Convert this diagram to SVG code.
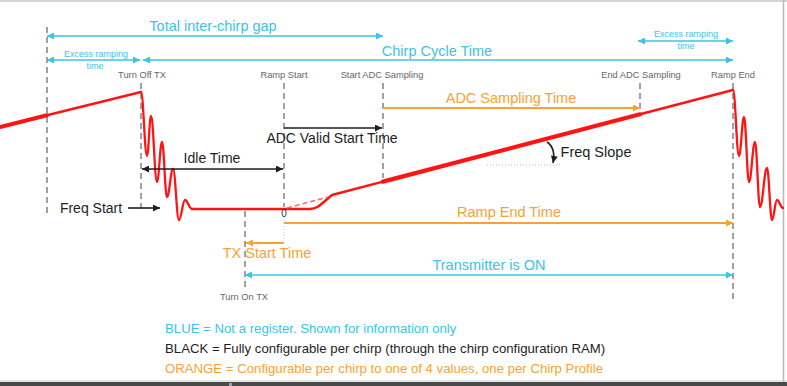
<svg xmlns="http://www.w3.org/2000/svg" width="787" height="386" viewBox="0 0 787 386">
<style>
text{font-family:"Liberation Sans",Arial,sans-serif}
.big{font-size:14.5px}
.blk{font-size:14px;fill:#1e1e1e}
.sm{font-size:9.3px;fill:#666}
.tiny{font-size:9px;fill:#3cc3e6}
.blue{fill:#3cc3e6}
.org{fill:#f8a235}
.leg{font-size:13.2px}
.dash{stroke:#8a8a8a;stroke-width:1.6;stroke-dasharray:6 4;fill:none}
.bl{stroke:#3cc3e6;stroke-width:1.6;fill:none}
.ol{stroke:#f8a235;stroke-width:1.8;fill:none}
.kl{stroke:#1e1e1e;stroke-width:1.6;fill:none}
.red{stroke:#ff1414;fill:none;stroke-linejoin:round;stroke-linecap:round}
</style>
<defs>
<marker id="ab" viewBox="0 0 10 10" refX="10" refY="5" markerWidth="8" markerHeight="7" markerUnits="userSpaceOnUse" orient="auto-start-reverse"><path d="M0,0 L10,5 L0,10 z" fill="#3cc3e6"/></marker>
<marker id="ao" viewBox="0 0 10 10" refX="10" refY="5" markerWidth="8" markerHeight="7" markerUnits="userSpaceOnUse" orient="auto-start-reverse"><path d="M0,0 L10,5 L0,10 z" fill="#f8a235"/></marker>
<marker id="ak" viewBox="0 0 10 10" refX="10" refY="5" markerWidth="9" markerHeight="7" markerUnits="userSpaceOnUse" orient="auto-start-reverse"><path d="M0,0 L10,5 L0,10 z" fill="#1e1e1e"/></marker>
</defs>
<rect width="787" height="386" fill="#fff"/>
<g id="frame">
<line x1="0" y1="1" x2="787" y2="1" stroke="#d6d2ce" stroke-width="2"/>
<line x1="783.5" y1="0" x2="783.5" y2="382" stroke="#b8b8b8" stroke-width="1.5"/>
<line x1="0" y1="381" x2="787" y2="381" stroke="#c8c8c8" stroke-width="1"/>
<rect x="0" y="382" width="787" height="4" fill="#4a4a4a"/>
<rect x="229" y="383" width="3" height="3" fill="#9aa4b0"/>
</g>
<g id="markers">
<line class="dash" x1="47" y1="27" x2="47" y2="213"/>
<line class="dash" x1="141" y1="83" x2="141" y2="212"/>
<line class="dash" x1="284" y1="83" x2="284" y2="207"/>
<line x1="284" y1="217" x2="284" y2="240" stroke="#c8c8c8" stroke-width="1" stroke-dasharray="1 2"/>
<line class="dash" x1="383" y1="83" x2="383" y2="178"/>
<line class="dash" x1="640" y1="83" x2="640" y2="112"/>
<line class="dash" x1="733" y1="83" x2="733" y2="300"/>
<line class="dash" x1="245" y1="211" x2="245" y2="289"/>
</g>
<g id="waveform">
<line class="red" x1="0" y1="127" x2="47" y2="115.3" stroke-width="4"/>
<line class="red" x1="47" y1="115.3" x2="141" y2="92" stroke-width="2.5"/>
<path class="red" stroke-width="2.3" d="M141,92 C143.4,92 144.6,156 147,156 C148.6,156 149.4,116 151,116 C153.4,116 154.6,182 157,182 C159,182 160,142 162,142 C164,142 165,197 167,197 C169.4,197 170.6,169 173,169 C175.4,169 176.6,220 179,220 C181.4,220 182.6,200 185,200 C187.8,200 189.2,209 192,209"/>
<path class="red" stroke-width="2.5" d="M192,209 L310,209 C318,209 322,203 332,195 L383,181.6"/>
<line class="red" x1="383" y1="181.6" x2="640" y2="114.3" stroke-width="4.2"/>
<line class="red" x1="640" y1="114.3" x2="733" y2="90" stroke-width="2.5"/>
<path class="red" stroke-width="2.3" d="M733,90 C735.4,90 736.6,156 739,156 C741,156 742,117 744,117 C746,117 747,182 749,182 C751.4,182 752.6,142 755,142 C757,142 758,207 760,207 C762.8,207 764.2,168 767,168 C769,168 770,220 772,220 C774,220 775,200 777,200 C779.4,200 780.6,208 783,208"/>
<line x1="287" y1="208" x2="328" y2="197" stroke="#f06a6a" stroke-width="1.5" stroke-dasharray="5 3"/>
</g>
<g id="connectors">
<line class="bl" x1="47" y1="36" x2="383" y2="36" marker-start="url(#ab)" marker-end="url(#ab)"/>
<line class="bl" x1="47" y1="60" x2="140" y2="60" marker-start="url(#ab)" marker-end="url(#ab)"/>
<line class="bl" x1="143" y1="60" x2="733" y2="60" marker-start="url(#ab)" marker-end="url(#ab)"/>
<line class="bl" x1="638" y1="41" x2="733" y2="41" marker-start="url(#ab)" marker-end="url(#ab)"/>
<line class="bl" x1="245" y1="275" x2="733" y2="275" marker-start="url(#ab)" marker-end="url(#ab)"/>
<line class="ol" x1="383" y1="108" x2="640" y2="108" marker-end="url(#ao)"/>
<line class="ol" x1="284" y1="223" x2="733" y2="223" marker-end="url(#ao)"/>
<line class="ol" x1="284" y1="243" x2="246" y2="243" marker-end="url(#ao)"/>
<line class="kl" x1="284" y1="128" x2="382" y2="128" marker-end="url(#ak)"/>
<line class="kl" x1="142" y1="169" x2="283" y2="169" marker-start="url(#ak)" marker-end="url(#ak)"/>
<line class="kl" x1="128" y1="208" x2="160" y2="208" marker-end="url(#ak)"/>
<path class="kl" stroke-width="1.3" d="M547,142 C553,146 555,153 553,163" marker-end="url(#ak)"/>
<line x1="487" y1="165" x2="562" y2="165" stroke="#b8b8b8" stroke-width="1" stroke-dasharray="1 2"/>
</g>
<g id="label-total"><text class="big blue" x="213" y="31" text-anchor="middle">Total inter-chirp gap</text></g>
<g id="label-chirp-cycle"><text class="big blue" x="437" y="56" text-anchor="middle">Chirp Cycle Time</text></g>
<g id="label-excess-left"><text class="tiny" x="96" y="57" text-anchor="middle">Excess ramping</text><text class="tiny" x="95" y="69" text-anchor="middle">time</text></g>
<g id="label-excess-right"><text class="tiny" x="686" y="37" text-anchor="middle">Excess ramping</text><text class="tiny" x="686" y="49" text-anchor="middle">time</text></g>
<g id="label-turn-off"><text class="sm" x="142" y="78" text-anchor="middle">Turn Off TX</text></g>
<g id="label-ramp-start"><text class="sm" x="284" y="78" text-anchor="middle">Ramp Start</text></g>
<g id="label-start-adc"><text class="sm" x="382" y="78" text-anchor="middle">Start ADC Sampling</text></g>
<g id="label-end-adc"><text class="sm" x="641" y="78" text-anchor="middle">End ADC Sampling</text></g>
<g id="label-ramp-end"><text class="sm" x="733" y="78" text-anchor="middle">Ramp End</text></g>
<g id="label-turn-on"><text class="sm" x="244" y="300" text-anchor="middle">Turn On TX</text></g>
<g id="label-adc-sampling"><text class="big org" x="511" y="103" text-anchor="middle">ADC Sampling Time</text></g>
<g id="label-adc-valid"><text class="blk" x="332" y="143" text-anchor="middle">ADC Valid Start Time</text></g>
<g id="label-idle"><text class="blk" x="212" y="163" text-anchor="middle">Idle Time</text></g>
<g id="label-freq-start"><text class="blk" x="91" y="213" text-anchor="middle">Freq Start</text></g>
<g id="label-freq-slope"><text class="big" x="596" y="157" text-anchor="middle" fill="#1e1e1e">Freq Slope</text></g>
<g id="label-zero"><text x="284" y="217" text-anchor="middle" font-size="10" fill="#333">0</text></g>
<g id="label-ramp-end-time"><text class="big org" x="509" y="217" text-anchor="middle">Ramp End Time</text></g>
<g id="label-tx-start"><text class="big org" x="267" y="258" text-anchor="middle">TX Start Time</text></g>
<g id="label-tx-on"><text class="big blue" x="489" y="270" text-anchor="middle">Transmitter is ON</text></g>
<g id="legend">
<text class="leg blue" x="165" y="333">BLUE = Not a register. Shown for information only</text>
<text class="leg" x="165" y="353" fill="#1e1e1e">BLACK = Fully configurable per chirp (through the chirp configuration RAM)</text>
<text class="leg org" x="165" y="373">ORANGE = Configurable per chirp to one of 4 values, one per Chirp Profile</text>
</g>
</svg>
